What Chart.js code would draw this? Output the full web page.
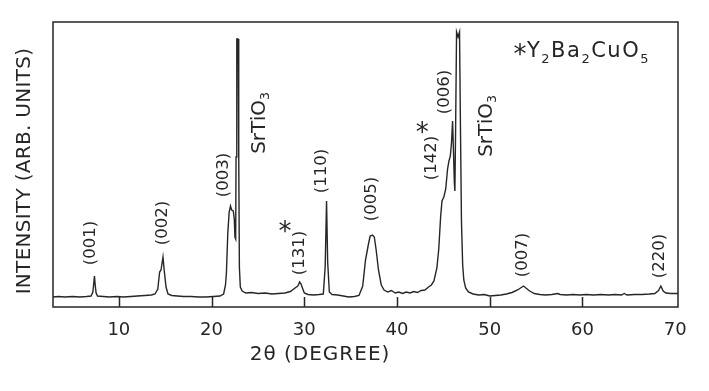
<!DOCTYPE html>
<html>
<head>
<meta charset="utf-8">
<script src="https://cdn.jsdelivr.net/npm/chart.js@4.4.1/dist/chart.umd.min.js"></script>
<style>
  html, body { margin: 0; padding: 0; background: #fff; }
  canvas { display: block; }
</style>
</head>
<body>
<canvas id="xrdChart" width="709" height="391"></canvas>
<script>
// 2-theta positions (degrees) and intensities (arb. units)
const twoTheta = [
  2.9, 3.5, 4.2, 5.0, 5.8, 6.5, 7.0, 7.2, 7.3, 7.37, 7.45, 7.55, 7.7, 8.3, 9.0, 9.8,
  10.5, 11.3, 12.0, 12.8, 13.5, 13.9, 14.2, 14.4, 14.55, 14.76, 14.9, 15.09, 15.3, 15.7,
  16.3, 17.0, 17.8, 18.6, 19.4, 20.2, 20.9, 21.3, 21.5, 21.6, 21.75, 21.9, 22.04, 22.17,
  22.34, 22.45, 22.52, 22.6, 22.64, 22.72, 22.86, 22.93, 23.0, 23.1, 23.3, 23.7, 24.3,
  25.0, 25.8, 26.5, 27.2, 27.9, 28.5, 29.0, 29.3, 29.5, 29.65, 29.8, 30.0, 30.4, 31.0,
  31.6, 32.05, 32.25, 32.4, 32.52, 32.7, 33.0, 33.6, 34.2, 34.8, 35.4, 35.9, 36.3, 36.6,
  36.9, 37.1, 37.35, 37.55, 37.75, 38.0, 38.3, 38.6, 39.0, 39.4, 39.8, 40.2, 40.6, 41.0,
  41.4, 41.8, 42.2, 42.6, 43.0, 43.4, 43.7, 43.98, 44.3, 44.5, 44.7, 44.85, 45.05, 45.25,
  45.45, 45.6, 45.75, 45.88, 45.99, 46.08, 46.18, 46.24, 46.32, 46.42, 46.58, 46.74, 46.84,
  46.95, 47.08, 47.2, 47.4, 47.7, 48.2, 48.8, 49.4, 50.0, 50.6, 51.2, 51.8, 52.4, 53.0,
  53.4, 53.65, 53.9, 54.3, 54.8, 55.4, 56.0, 56.7, 57.3, 57.6, 58.3, 59.0, 59.7, 60.4,
  61.2, 62.0, 62.8, 63.5, 64.2, 64.5, 64.8, 65.6, 66.4, 67.2, 67.8, 68.2, 68.45, 68.7,
  69.0, 69.5, 70.3
];
const intensity = [
  10, 10.5, 10, 10.5, 10, 10.5, 11, 15, 24, 31, 22, 14, 11, 10.5, 10, 10.5,
  10, 10.5, 11, 11.5, 12, 13, 18, 35, 37, 50, 36, 20, 13, 11.5,
  11, 10.5, 10.5, 10, 10, 10.5, 11, 13, 22, 34, 74, 95, 101, 97,
  96, 88, 70, 68, 150, 268, 268, 150, 40, 20, 16, 14, 14.5,
  13.5, 14, 13, 13.5, 14, 15.5, 19, 21, 25, 23, 19, 14, 12.5, 12,
  12.5, 13, 40, 106, 45, 15, 12.5, 12, 11, 10, 10.5, 11.5, 21, 47,
  62, 71, 72, 70, 57, 37, 22, 17, 15, 16.5, 14, 15, 13.5, 15,
  14, 15.5, 14.5, 16.5, 17, 20, 22, 26, 39, 58, 90, 106, 110, 118,
  138, 146, 151, 165, 186, 158, 125, 116, 180, 275, 270, 275, 180,
  85, 42, 27, 19, 15, 13, 12, 12.5, 11, 11.5, 12, 13, 14.5, 17,
  19.5, 21, 19, 16, 13.5, 12.5, 12, 12.5, 13.5, 12.5, 12, 12.5, 12, 12.5,
  12, 12.5, 12, 12.5, 12, 13.5, 12, 12.5, 12.5, 13, 13.5, 16.5, 21, 16,
  14, 13.5, 13.5
];
const tickValues = [10, 20, 30, 40, 50, 60, 70];

// peak labels: text runs ([text, isSubscript]) and where they sit in data units
const peakText = [
  [['(001)', 0]], [['(002)', 0]], [['(003)', 0]], [['SrTiO', 0], ['3', 1]],
  [['(131)', 0]], [['(110)', 0]], [['(005)', 0]], [['(142)', 0]], [['(006)', 0]],
  [['SrTiO', 0], ['3', 1]], [['(007)', 0]], [['(220)', 0]]
];
const peakAt2Theta = [7.0, 14.76, 21.36, 25.15, 29.52, 31.86, 37.27, 43.77, 45.17, 49.72, 53.51, 68.34];
const peakAtIntensity = [64, 84, 132, 184, 54, 136, 108, 149, 215, 181, 52, 51];
const starAt2Theta = [27.93, 42.72];
const starAtIntensity = [80, 179];
const legendRuns = [['Y', 0], ['2', 1], ['Ba', 0], ['2', 1], ['CuO', 0], ['5', 1]];

const INK = '#262626';
const FONT = "'DejaVu Sans', sans-serif";

function runsWidth(ctx, runs, size) {
    let w = 0;
    runs.forEach(([t, sub]) => {
        ctx.font = (sub ? size * 0.62 : size) + 'px ' + FONT;
        w += ctx.measureText(t).width;
    });
    return w;
}

function drawRuns(ctx, runs, size, x, y) {
    runs.forEach(([t, sub]) => {
        ctx.font = (sub ? size * 0.62 : size) + 'px ' + FONT;
        ctx.fillText(t, x, sub ? y + size * 0.3 : y);
        x += ctx.measureText(t).width;
    });
}

function drawRotated(ctx, runs, size, cx, cy) {
    ctx.save();
    ctx.translate(cx, cy);
    ctx.rotate(-Math.PI / 2);
    ctx.textBaseline = 'middle';
    ctx.textAlign = 'left';
    const w = runsWidth(ctx, runs, size);
    drawRuns(ctx, runs, size, -w / 2, 0);
    ctx.restore();
}

function drawStar(ctx, x, y) {
    ctx.save();
    ctx.font = '26px ' + FONT;
    ctx.textAlign = 'center';
    ctx.textBaseline = 'middle';
    ctx.fillText('*', x, y + 6.5);
    ctx.restore();
}

const decorPlugin = {
    id: 'decor',
    afterDraw(chart) {
        const ctx = chart.ctx;
        const area = chart.chartArea;
        const xs = chart.scales.x;
        const ys = chart.scales.y;
        ctx.save();
        ctx.strokeStyle = INK;
        ctx.fillStyle = INK;

        // frame
        ctx.lineWidth = 1.5;
        ctx.strokeRect(area.left, area.top, area.right - area.left, area.bottom - area.top);

        // inward tick marks
        ctx.beginPath();
        tickValues.slice(0, -1).forEach(v => {
            const px = Math.round(xs.getPixelForValue(v)) + 0.5;
            ctx.moveTo(px, area.bottom);
            ctx.lineTo(px, area.bottom - 10);
        });
        ctx.stroke();

        // peak labels
        peakText.forEach((runs, i) => {
            const size = runs.length > 1 ? 20 : 16.5;
            drawRotated(ctx, runs, size, xs.getPixelForValue(peakAt2Theta[i]), ys.getPixelForValue(peakAtIntensity[i]));
        });
        starAt2Theta.forEach((v, i) => {
            drawStar(ctx, xs.getPixelForValue(v), ys.getPixelForValue(starAtIntensity[i]));
        });

        // legend for the starred phase
        drawStar(ctx, area.right - 158, area.top + 28);
        ctx.textBaseline = 'alphabetic';
        ctx.textAlign = 'left';
        ctx.letterSpacing = '1.5px';
        drawRuns(ctx, legendRuns, 21, area.right - 151, area.top + 35);
        ctx.letterSpacing = '0px';

        // axis titles
        ctx.font = '20px ' + FONT;
        ctx.textAlign = 'center';
        ctx.textBaseline = 'middle';
        ctx.letterSpacing = '1px';
        ctx.fillText('2θ (DEGREE)', 320, 355);
        ctx.save();
        ctx.translate(25, 171);
        ctx.rotate(-Math.PI / 2);
        ctx.letterSpacing = '0.3px';
        ctx.fillText('INTENSITY (ARB. UNITS)', 0, 0);
        ctx.restore();

        ctx.restore();
    }
};

document.addEventListener('DOMContentLoaded', function() {
    const ctx = document.getElementById('xrdChart').getContext('2d');
    new Chart(ctx, {
        type: 'line',
        data: {
            datasets: [{
                data: twoTheta.map((t, i) => ({ x: t, y: intensity[i] })),
                borderColor: INK,
                borderWidth: 1.4,
                pointRadius: 0,
                tension: 0,
                fill: false
            }]
        },
        options: {
            responsive: false,
            animation: false,
            devicePixelRatio: 1,
            layout: { padding: { left: 53, top: 22, right: 31, bottom: 0 } },
            plugins: { legend: { display: false }, tooltip: { enabled: false } },
            scales: {
                x: {
                    type: 'linear',
                    min: 2.9,
                    max: 70.3,
                    grid: { display: false },
                    border: { display: false },
                    afterFit: s => { s.height = 84; },
                    afterBuildTicks: s => { s.ticks = tickValues.map(v => ({ value: v })); },
                    ticks: {
                        color: INK,
                        padding: 5,
                        maxRotation: 0,
                        autoSkip: false,
                        font: { family: 'DejaVu Sans', size: 18 }
                    }
                },
                y: { display: false, min: 0, max: 285 }
            }
        },
        plugins: [decorPlugin]
    });
});
</script>
</body>
</html>
